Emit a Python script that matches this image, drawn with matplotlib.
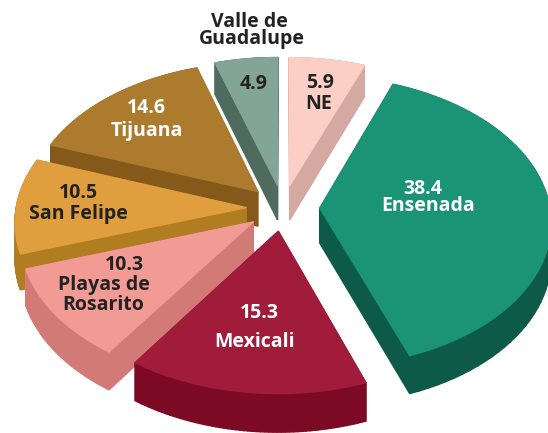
import numpy as np
import matplotlib.pyplot as plt
from matplotlib.patches import Polygon

# valores en porcentaje, en sentido horario desde arriba
categorias = ["NE", "Ensenada", "Mexicali", "Playas de\nRosarito", "San Felipe", "Tijuana", "Valle de\nGuadalupe"]
valores = [5.9, 38.4, 15.3, 10.3, 10.5, 14.6, 4.9]
colores = ["#FBCFC5", "#1A9377", "#A01C3A", "#F29A94", "#E19E3F", "#AD7B2E", "#82A598"]
lados = ["#D3A9A2", "#0C5A47", "#7D0A25", "#D27A76", "#B07D20", "#85591A", "#4F6B5F"]
orden = [6, 0, 5, 1, 4, 3, 2]  # de atras hacia adelante

CX, CY = 283, 208
RX, RY = 230, 145
PERSP = 0.09
DEPTH = 35
EXPLODE = 0.16


def proyectar(x, y, z=0):
    f = 1 - PERSP * y
    return CX + RX * x * f, CY - RY * y * f + DEPTH * z * f


def rebanada(a0, a1):
    ang = np.radians(np.linspace(a0, a1, 60))
    mid = np.radians((a0 + a1) / 2)
    dx, dy = EXPLODE * np.sin(mid), EXPLODE * np.cos(mid)
    xs = np.r_[dx, dx + np.sin(ang)]
    ys = np.r_[dy, dy + np.cos(ang)]
    return xs, ys


fig = plt.figure(figsize=(5.48, 4.33), dpi=100)
ax = fig.add_axes([0, 0, 1, 1])
ax.set_xlim(0, 548)
ax.set_ylim(433, 0)
ax.axis("off")

limites = np.r_[0, np.cumsum(valores)] / sum(valores) * 360
for i in orden:
    xs, ys = rebanada(limites[i], limites[i + 1])
    n = len(xs)
    for j in range(n):
        k = (j + 1) % n
        quad = [proyectar(xs[j], ys[j]), proyectar(xs[k], ys[k]),
                proyectar(xs[k], ys[k], 1), proyectar(xs[j], ys[j], 1)]
        ax.add_patch(Polygon(quad, fc=lados[i], ec=lados[i], lw=1))
    ax.add_patch(Polygon(np.array(proyectar(xs, ys)).T, fc=colores[i], ec=colores[i],
                         lw=1, joinstyle="round"))

etiquetas = [
    ("5.9", 320, 83, "#222222"),
    ("NE", 319, 104, "#222222"),
    ("38.4", 423, 189, "white"),
    ("Ensenada", 428, 206, "white"),
    ("15.3", 259, 313, "white"),
    ("Mexicali", 254, 342, "white"),
    ("10.3", 124, 265, "#222222"),
    ("Playas de", 104, 285, "#222222"),
    ("Rosarito", 103, 305, "#222222"),
    ("10.5", 78, 193, "#222222"),
    ("San Felipe", 78, 214, "#222222"),
    ("14.6", 146, 108, "white"),
    ("Tijuana", 147, 131, "white"),
    ("4.9", 254, 84, "#222222"),
    ("Valle de", 249, 22, "#222222"),
    ("Guadalupe", 252, 39, "#222222"),
]
for txt, x, y, col in etiquetas:
    ax.text(x, y, txt, color=col, ha="center", va="center", family="Open Sans",
            fontweight="bold", fontsize=14)

fig.savefig("out.png", dpi=100)
